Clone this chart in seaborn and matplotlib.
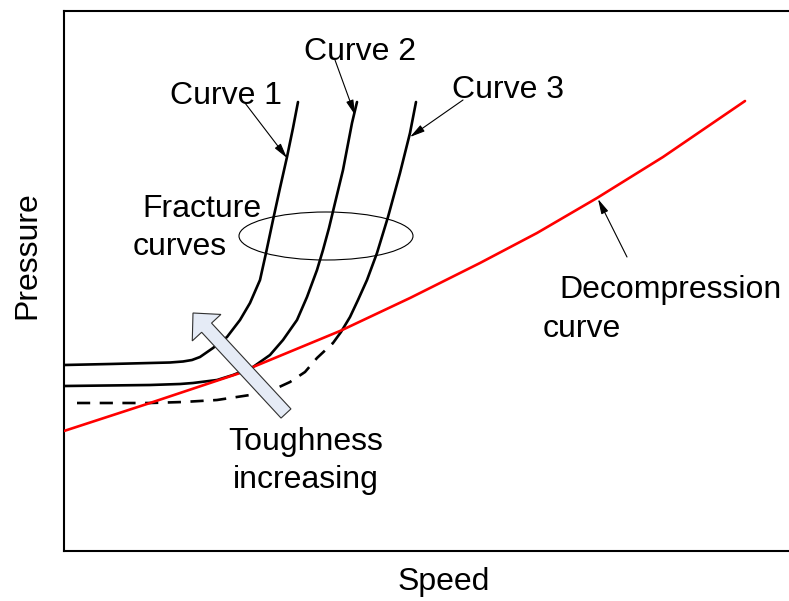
import matplotlib
matplotlib.use("Agg")
import matplotlib.pyplot as plt
import seaborn as sns
import pandas as pd
from matplotlib.patches import Ellipse, FancyArrow

# ---- data (schematic values, speed / pressure in arbitrary units) ----
curve1_speed = [64, 110, 150, 170, 183, 192, 200, 213, 227, 240, 250, 260, 266, 273, 280, 287, 293, 298]
curve1_press = [236, 237, 238, 238.5, 239.5, 241, 244, 253, 264, 281, 298, 321, 348, 381, 413, 444, 473, 499]

curve2_speed = [64, 150, 180, 193, 205, 217, 233, 253, 270, 283, 297, 307, 317, 323, 329, 335, 343, 352, 357]
curve2_press = [215, 216, 217, 218, 219.5, 221, 226, 234, 246, 261, 281, 304, 331, 351, 373, 398, 431, 478, 499]

curve3_dash_speed = [77, 150, 183, 217, 250, 277, 290, 305, 317, 333]
curve3_dash_press = [198, 198, 199, 201, 206, 213, 219, 229, 243, 258]
curve3_speed = [333, 341, 350, 358, 367, 377, 388, 400, 410, 416]
curve3_press = [258, 269, 284, 301, 321, 348, 384, 428, 468, 499]

decomp_speed = [64, 150, 240, 253, 340, 410, 480, 537, 597, 663, 745]
decomp_press = [170, 198, 228, 234, 270, 303, 338, 368, 403, 444, 500]

sns.set_style("white")
plt.rcParams["font.family"] = ["Liberation Sans", "DejaVu Sans"]
plt.rcParams["text.color"] = "black"
plt.rcParams["axes.labelcolor"] = "black"

W, H = 789, 601
fig = plt.figure(figsize=(W / 100, H / 100), dpi=100)
ax = fig.add_axes([64 / W, 50 / H, (W - 64) / W, 540 / H])
ax.set_xlim(64, 789)
ax.set_ylim(50, 590)

lw = 1.9
def draw(xs, ys, **kw):
    df = pd.DataFrame({"Speed": xs, "Pressure": ys})
    sns.lineplot(data=df, x="Speed", y="Pressure", sort=False, estimator=None,
                 ax=ax, legend=False, **kw)

draw(decomp_speed, decomp_press, color="#ff0000", lw=lw, zorder=3)
draw(curve1_speed, curve1_press, color="black", lw=lw, zorder=2)
draw(curve2_speed, curve2_press, color="black", lw=lw, zorder=2)
draw(curve3_speed, curve3_press, color="black", lw=lw, zorder=2)
draw(curve3_dash_speed, curve3_dash_press, color="black", lw=lw, zorder=2)
ax.lines[-1].set_linestyle((0, (5, 3.6)))
for ln in ax.lines:
    ln.set_solid_joinstyle("round")
    ln.set_dash_joinstyle("round")

# ellipse around fracture curves
ax.add_patch(Ellipse((326, 601 - 236), 174, 48, fill=False, edgecolor="black",
                     lw=0.8, zorder=4))

# toughness block arrow
ax.add_patch(FancyArrow(286, 601 - 413.5, 193 - 286, 100.5, width=13.5,
                        head_width=39, head_length=20, length_includes_head=True,
                        facecolor="#e5ebf6", edgecolor="#303030", lw=0.8, zorder=5))

fs = 23
arrow_kw = dict(arrowstyle="-|>,head_length=0.6,head_width=0.15", color="black",
                lw=0.8, shrinkA=0, shrinkB=0, mutation_scale=15)

def note(tail, tip):
    ax.annotate("", xy=(tip[0], 601 - tip[1]), xytext=(tail[0], 601 - tail[1]),
                arrowprops=arrow_kw, zorder=6)

note((245, 103), (287, 158))
note((335, 60), (355, 115))
note((463, 100), (410, 137))
note((627, 257), (598, 199))

def label(x, y, s, ha="center"):
    ax.text(x, 601 - y, s, fontsize=fs, ha=ha, va="baseline", color="black", zorder=7)

label(226, 104, "Curve 1")
label(360, 60, "Curve 2")
label(508, 98, "Curve 3")
label(142, 217, "Fracture", ha="left")
label(133, 255, "curves", ha="left")
label(306, 450, "Toughness")
label(306, 488, "increasing")
label(559, 298, "Decompression", ha="left")
label(543, 337, "curve", ha="left")

ax.set_xticks([])
ax.set_yticks([])
ax.set_xlabel("Speed", fontsize=fs, color="black")
ax.set_ylabel("Pressure", fontsize=fs, color="black")
ax.xaxis.set_label_coords((444 - 64) / 725, (551 - 567) / 540)
ax.yaxis.set_label_coords((42 - 64) / 725, (551 - 255) / 540)

for side in ["left", "top", "bottom"]:
    ax.spines[side].set_visible(True)
    ax.spines[side].set_color("black")
    ax.spines[side].set_linewidth(1.5)
ax.spines["right"].set_visible(False)

fig.savefig("out.png", dpi=100)
